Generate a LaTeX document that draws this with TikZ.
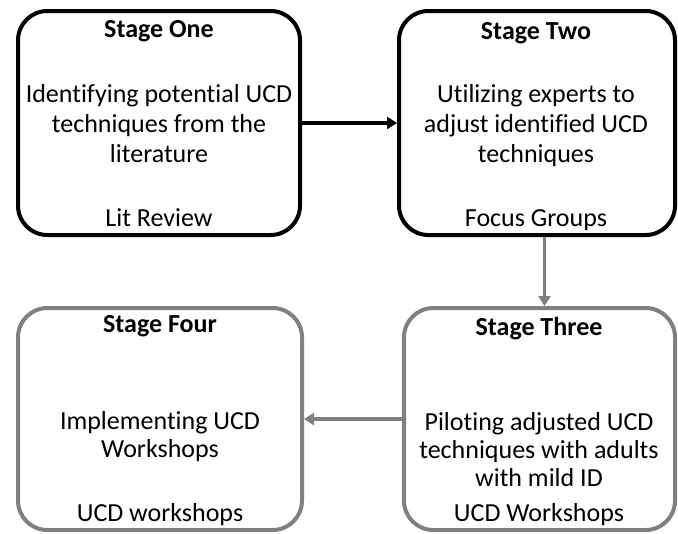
\documentclass[tikz,border=0pt]{standalone}
\usepackage{fontspec}
\setmainfont[Ligatures=NoCommon]{Carlito}
\usetikzlibrary{arrows.meta,positioning}
\definecolor{stagegray}{RGB}{128,128,128}
\begin{document}
\begin{tikzpicture}[x=0.75pt,y=-0.75pt,
    stagebox/.style={draw, line width=3pt, rounded corners=22pt, inner sep=0pt},
    stagetitle/.style={font=\fontsize{19.5}{23}\selectfont\bfseries},
    stagetext/.style={font=\fontsize{19.5}{22.5}\selectfont, align=center},
    blackarrow/.style={draw=black, line width=2.5pt, -{Triangle[length=7.5pt,width=9pt]}},
    grayarrow/.style={draw=stagegray, line width=2.8pt, -{Triangle[length=7.5pt,width=9pt]}}]
    \useasboundingbox (0,0) rectangle (678,533);
    % stage boxes
    \node[stagebox, minimum width=211.5pt, minimum height=168pt] (one) at (159,123) {};
    \node[stagebox, minimum width=207pt, minimum height=168pt] (two) at (537,123) {};
    \node[stagebox, draw=stagegray, minimum width=203.25pt, minimum height=166.5pt] (three) at (539.5,419) {};
    \node[stagebox, draw=stagegray, minimum width=213pt, minimum height=166.5pt] (four) at (160,419) {};
    % texts
    \node[stagetitle] (onetitle) at (159,31) {Stage One};
    \node[stagetext] (onebody) at (159,124) {Identifying potential UCD\\techniques from the\\literature};
    \node[stagetext] (onefoot) at (159,218) {Lit Review};
    \node[stagetitle] (twotitle) at (536,33) {Stage Two};
    \node[stagetext] (twobody) at (536,126) {Utilizing experts to\\adjust identified UCD\\techniques};
    \node[stagetext] (twofoot) at (536,220) {Focus Groups};
    \node[stagetitle] (threetitle) at (539,329) {Stage Three};
    \node[stagetext, font=\fontsize{19.5}{21}\selectfont] (threebody) at (539,450) {Piloting adjusted UCD\\techniques with adults\\with mild ID};
    \node[stagetext] (threefoot) at (539,515) {UCD Workshops};
    \node[stagetitle] (fourtitle) at (160,326) {Stage Four};
    \node[stagetext, font=\fontsize{19.5}{21}\selectfont] (fourbody) at (160,437) {Implementing UCD\\Workshops};
    \node[stagetext] (fourfoot) at (160,515) {UCD workshops};
    % arrows
    \draw[blackarrow] (one.east) -- (two.west);
    \draw[grayarrow] ([xshift=5.6pt]two.south) -- ([xshift=5.6pt]two.south |- three.north);
    \draw[grayarrow] (three.west) -- (four.east);
\end{tikzpicture}
\end{document}
